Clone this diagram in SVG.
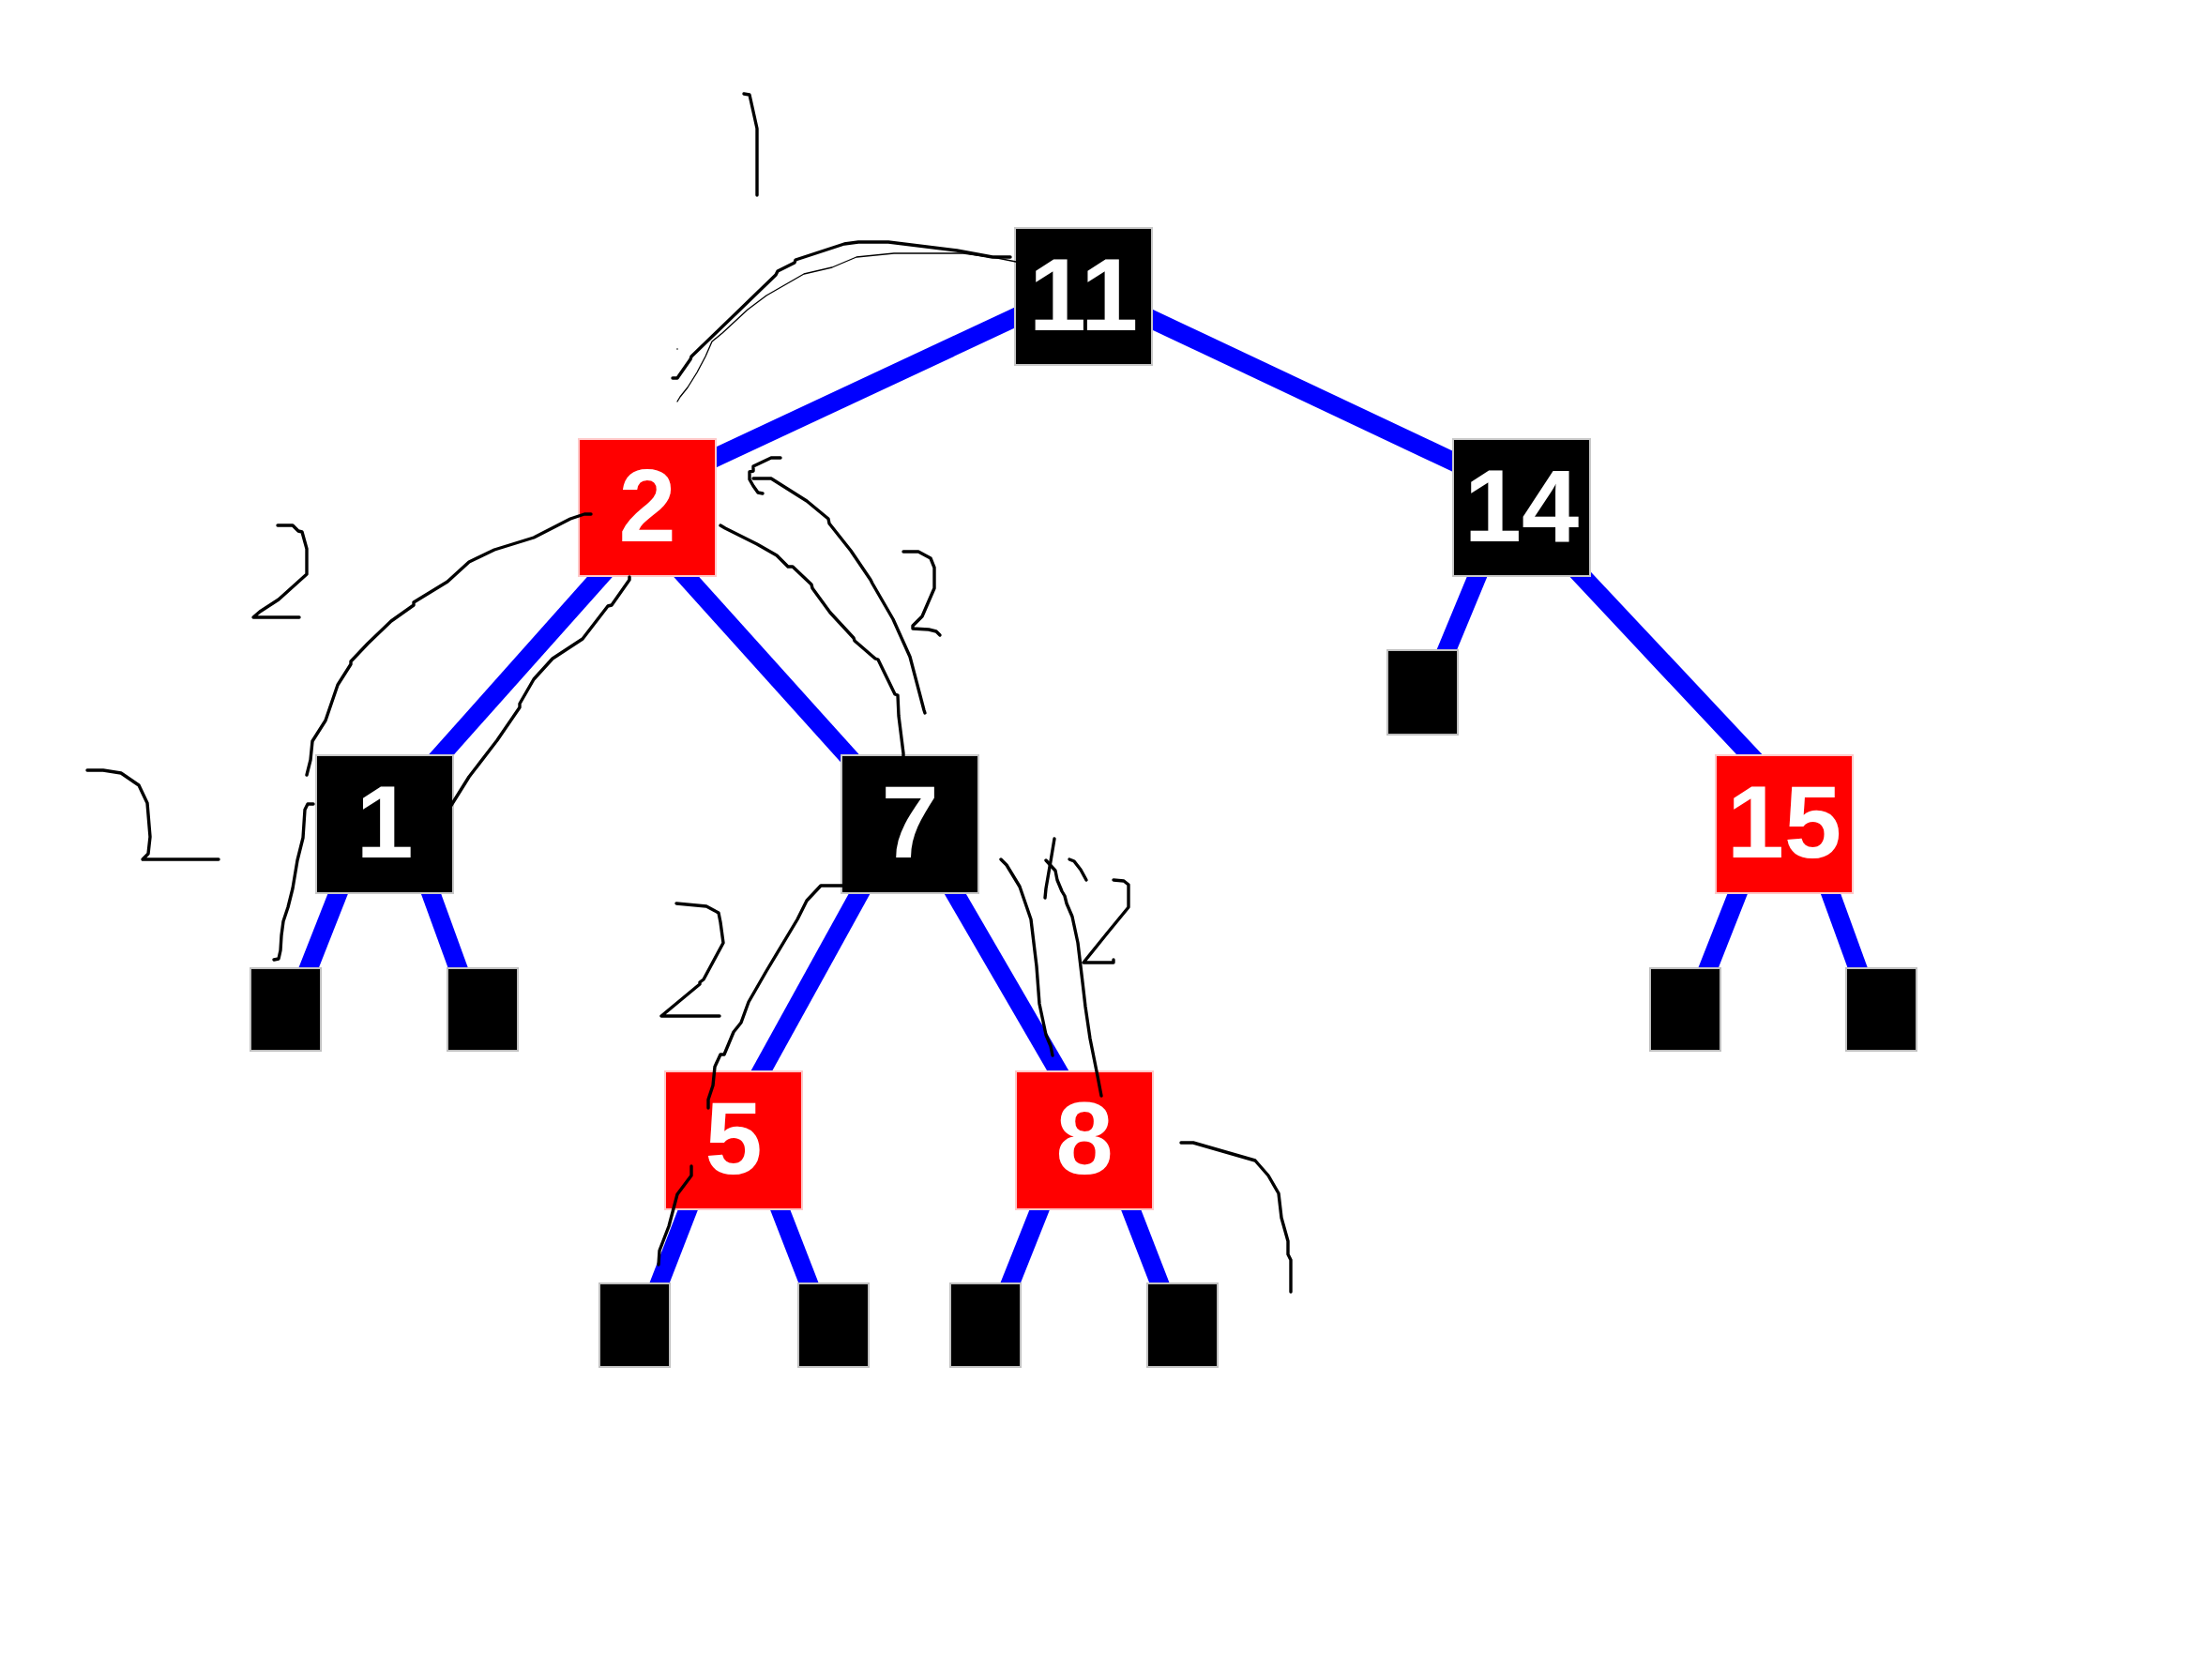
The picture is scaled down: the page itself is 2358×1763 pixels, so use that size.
<svg xmlns="http://www.w3.org/2000/svg" width="2358" height="1763" viewBox="0 0 2358 1763">
<style>
.edge{stroke:#0000ff;stroke-width:20;fill:none;stroke-linecap:butt}
.blk{fill:#000000;stroke:#c8c8c8;stroke-width:2}
.red{fill:#ff0000;stroke:#ffc8c8;stroke-width:2}
.leaf{fill:#000000;stroke:#c0c0c0;stroke-width:2}
.lbl{font-family:"Liberation Sans",Arial,sans-serif;font-weight:bold;font-size:110px;fill:#ffffff;text-anchor:middle}
.ink{fill:none;stroke:#000000;stroke-width:3.4;stroke-linejoin:round;stroke-linecap:round}
.thin{fill:none;stroke:#000000;stroke-width:1.3;stroke-linejoin:round;stroke-linecap:round}
</style>
<rect x="0" y="0" width="2358" height="1763" fill="#ffffff"/>
<g id="connectors">
<line class="edge" x1="1100" y1="330" x2="745" y2="496"/>
<line class="edge" x1="1210" y1="332" x2="1566" y2="500"/>
<line class="edge" x1="650" y1="603" x2="461" y2="815"/>
<line class="edge" x1="721" y1="603" x2="912" y2="815"/>
<line class="edge" x1="1579" y1="604" x2="1538" y2="703"/>
<line class="edge" x1="1676" y1="603" x2="1875" y2="815"/>
<line class="edge" x1="364" y1="943" x2="325" y2="1042"/>
<line class="edge" x1="456" y1="943" x2="492" y2="1042"/>
<line class="edge" x1="922" y1="942" x2="806" y2="1152"/>
<line class="edge" x1="1012" y1="942" x2="1134" y2="1152"/>
<line class="edge" x1="737" y1="1280" x2="699" y2="1378"/>
<line class="edge" x1="828" y1="1280" x2="866" y2="1378"/>
<line class="edge" x1="1112" y1="1280" x2="1073" y2="1378"/>
<line class="edge" x1="1202" y1="1280" x2="1240" y2="1378"/>
<line class="edge" x1="1856" y1="943" x2="1817" y2="1042"/>
<line class="edge" x1="1948" y1="943" x2="1984" y2="1042"/>
</g>
<g id="node-11"><rect class="blk" x="1082" y="243" width="146" height="146"/><text class="lbl" x="1155" y="352">11</text></g>
<g id="node-2"><rect class="red" x="617" y="468" width="146" height="146"/><text class="lbl" x="690" y="577">2</text></g>
<g id="node-14"><rect class="blk" x="1549" y="468" width="146" height="146"/><text class="lbl" x="1622" y="577">14</text></g>
<g id="node-1"><rect class="blk" x="337" y="805" width="146" height="147"/><text class="lbl" x="410" y="914">1</text></g>
<g id="node-7"><rect class="blk" x="897" y="805" width="146" height="147"/><text class="lbl" x="970" y="914">7</text></g>
<g id="node-15"><rect class="red" x="1829" y="805" width="146" height="147"/><text class="lbl" x="1902" y="914">15</text></g>
<g id="node-5"><rect class="red" x="709" y="1142" width="146" height="147"/><text class="lbl" x="782" y="1251">5</text></g>
<g id="node-8"><rect class="red" x="1083" y="1142" width="146" height="147"/><text class="lbl" x="1156" y="1251">8</text></g>
<g id="leaf-14"><rect class="leaf" x="1479" y="693" width="75" height="90"/></g>
<g id="leaf-1a"><rect class="leaf" x="267" y="1032" width="75" height="88"/></g>
<g id="leaf-1b"><rect class="leaf" x="477" y="1032" width="75" height="88"/></g>
<g id="leaf-15a"><rect class="leaf" x="1759" y="1032" width="75" height="88"/></g>
<g id="leaf-15b"><rect class="leaf" x="1968" y="1032" width="75" height="88"/></g>
<g id="leaf-5a"><rect class="leaf" x="639" y="1368" width="75" height="89"/></g>
<g id="leaf-5b"><rect class="leaf" x="851" y="1368" width="75" height="89"/></g>
<g id="leaf-8a"><rect class="leaf" x="1013" y="1368" width="75" height="89"/></g>
<g id="leaf-8b"><rect class="leaf" x="1223" y="1368" width="75" height="89"/></g>
<g id="annotations">
<polyline class="ink" points="793,100 799,101 807,137 807,208"/>
<polyline class="ink" points="717,403 722,403 736,383 737,380 827,293 829,289 847,280 848,277 900,260 915,258 947,258 1020,267 1058,274 1077,274"/>
<polyline class="thin" points="722,428 725,423 733,413 743,397 752,380 759,364 770,355 797,330 817,315 857,292 887,285 913,274 953,270 1027,270 1063,275 1083,279"/>
<circle cx="722" cy="372" r="0.8" fill="#000000"/>
<polyline class="ink" points="296,560 312,560 318,566 322,567 327,585 327,612 297,639 277,652 270,658 319,658"/>
<polyline class="ink" points="630,548 623,548 608,553 569,573 527,586 500,599 477,620 441,642 441,645 417,662 392,686 374,705 374,708 360,730 347,768 333,790 331,810 327,826"/>
<polyline class="ink" points="334,857 328,857 325,863 323,893 317,917 312,947 307,967 302,982 300,997 299,1013 297,1022 292,1023"/>
<polyline class="ink" points="671,615 671,618 652,645 648,646 621,681 589,702 569,724 554,750 554,754 530,789 500,828 480,860"/>
<polyline class="ink" points="93,821 110,821 129,824 148,837 157,856 160,892 158,910 152,916 233,916"/>
<polyline class="ink" points="832,488 822,488 803,497 803,502 799,503 799,511 803,518 808,525 813,526"/>
<polyline class="ink" points="803,510 822,510 860,534 883,553 884,558 907,587 928,618 930,622 952,660 970,700 985,757 986,760"/>
<polyline class="ink" points="768,560 773,563 807,580 828,592 840,604 845,604 865,623 866,627 885,653 910,680 911,683 933,702 936,703 954,740 957,741 958,763 963,803 963,810"/>
<polyline class="ink" points="963,588 979,588 992,595 996,605 996,627 983,657 973,667 973,670 990,671 998,673 1002,677"/>
<polyline class="ink" points="898,944 875,944 860,960 850,980 817,1035 798,1068 790,1090 782,1100 772,1124 768,1124 762,1137 760,1157 755,1172 755,1181"/>
<polyline class="ink" points="737,1243 737,1253 722,1273 713,1307 703,1333 702,1348"/>
<polyline class="ink" points="721,963 753,966 766,973 768,983 771,1005 750,1044 746,1047 746,1049 705,1083 767,1083"/>
<polyline class="ink" points="1067,916 1073,922 1087,945 1099,980 1105,1030 1108,1070 1115,1103 1120,1115 1122,1125"/>
<polyline class="ink" points="1124,894 1120,918 1115,947 1114,957"/>
<polyline class="ink" points="1115,917 1125,928 1127,938 1132,950 1135,955 1137,963 1143,977 1149,1005 1154,1047 1157,1073 1162,1107 1170,1147 1174,1168"/>
<polyline class="ink" points="1140,916 1145,918 1152,927 1158,938"/>
<polyline class="ink" points="1187,938 1198,939 1203,943 1203,967 1180,995 1155,1026 1187,1026 1187,1023"/>
<polyline class="ink" points="1259,1218 1272,1218 1338,1237 1352,1253 1363,1272 1366,1298 1373,1323 1373,1337 1376,1343 1376,1377"/>
</g>
</svg>
